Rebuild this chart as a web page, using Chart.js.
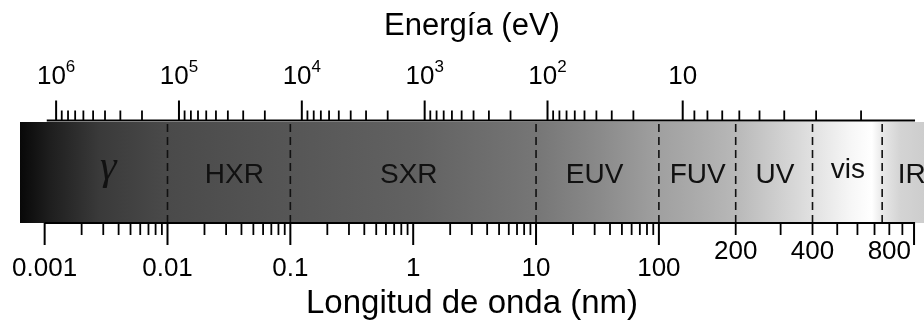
<!DOCTYPE html>
<html>
<head>
<meta charset="utf-8">
<script src="https://cdn.jsdelivr.net/npm/chart.js@4.4.1/dist/chart.umd.min.js"></script>
<style>
  html, body { margin: 0; padding: 0; background: #fff; }
</style>
</head>
<body>
<canvas id="myChart" width="924" height="322"></canvas>
<script>
// Bandas del espectro (longitud de onda en nm)
const bandNames = ['γ', 'HXR', 'SXR', 'EUV', 'FUV', 'UV', 'vis', 'IR'];
const bandEdges = [0.01, 0.1, 10, 100, 200, 400, 750];
const bandLabelAt = [0.0033, 0.035, 0.92, 30, 142, 285, 550, 980];
const spectrumRange = [0.00063, 1300];

// Eje inferior: longitud de onda
const lambdaMajor = [0.001, 0.01, 0.1, 1, 10, 100, 1000];
const lambdaLabelTicks = [0.001, 0.01, 0.1, 1, 10, 100, 200, 400, 800];
const lambdaLabels = ['0.001', '0.01', '0.1', '1', '10', '100', '200', '400', '800'];

// Eje superior: energía
const energyMajor = [1e6, 1e5, 1e4, 1e3, 1e2, 10];
const energyExp = [6, 5, 4, 3, 2, 1];

const HC = 1239.84;     // eV·nm
const STRETCH = 2.077;  // el tramo > 100 nm está ampliado
const axisRange = [0.00063, 1094];

// tonos de gris de la barra (nm, nivel)
const shadeStops = [
  [0.00063, 8], [0.0011, 30], [0.0028, 58], [0.01, 74], [0.1, 86], [1.1, 98],
  [10, 118], [33, 138], [100, 160], [145, 172], [200, 184], [357, 218],
  [561, 246], [684, 255], [750, 232], [881, 212], [1094, 205]
];

const FONT = '"Liberation Sans", Arial, sans-serif';

function u(nm) {
  const g = Math.log10(nm);
  return g <= 2 ? g : 2 + (g - 2) * STRETCH;
}

const lambdaMinor = [];
const energyMinor = [];
for (let n = -3; n <= 2; n++) {
  for (let m = 2; m <= 9; m++) lambdaMinor.push(m * Math.pow(10, n));
}
for (let n = 0; n <= 5; n++) {
  for (let m = 2; m <= 9; m++) energyMinor.push(m * Math.pow(10, n));
}

function barShade(context) {
  const chart = context.chart;
  if (!chart.chartArea) return '#666';
  const x = chart.scales.x;
  const x0 = x.getPixelForValue(u(spectrumRange[0]));
  const x1 = x.getPixelForValue(u(spectrumRange[1]));
  const g = chart.ctx.createLinearGradient(x0, 0, x1, 0);
  shadeStops.forEach(([l, v]) => {
    const t = (x.getPixelForValue(u(l)) - x0) / (x1 - x0);
    g.addColorStop(Math.min(1, Math.max(0, t)), `rgb(${v},${v},${v})`);
  });
  return g;
}

const labelNudge = { 'γ': -4, vis: -5 };

const spectrumPlugin = {
  id: 'spectrum',
  afterDatasetsDraw(chart) {
    const { ctx, chartArea: a, scales: { x } } = chart;
    const px = l => x.getPixelForValue(u(l));
    ctx.save();
    ctx.strokeStyle = '#000';
    ctx.fillStyle = '#000';

    const seg = (x1, y1, x2, y2, w) => {
      ctx.lineWidth = w;
      ctx.beginPath();
      ctx.moveTo(x1, y1);
      ctx.lineTo(x2, y2);
      ctx.stroke();
    };

    // eje superior
    const yTop = a.top - 1.5;
    seg(px(0.00104), yTop, px(1000) + 1, yTop, 1.8);
    energyMajor.forEach(e => { const p = px(HC / e); seg(p, yTop, p, yTop - 20, 2); });
    energyMinor.forEach(e => { const p = px(HC / e); seg(p, yTop, p, yTop - 10, 1.8); });

    ctx.textBaseline = 'alphabetic';
    ctx.textAlign = 'left';
    energyMajor.forEach((e, i) => {
      const cx = px(HC / e);
      const sup = energyExp[i] > 1 ? String(energyExp[i]) : '';
      ctx.font = '26px ' + FONT;
      const w1 = ctx.measureText('10').width;
      ctx.font = '17px ' + FONT;
      const w2 = sup ? ctx.measureText(sup).width : 0;
      const x0 = cx - (w1 + w2) / 2;
      ctx.font = '26px ' + FONT;
      ctx.fillText('10', x0, a.top - 38);
      if (sup) {
        ctx.font = '17px ' + FONT;
        ctx.fillText(sup, x0 + w1, a.top - 50);
      }
    });

    // eje inferior
    const yBot = a.bottom;
    seg(px(0.001), yBot, px(1000) + 1, yBot, 1.8);
    lambdaMajor.forEach(l => { const p = px(l); seg(p, yBot, p, yBot + 22, 2); });
    lambdaMinor.forEach(l => { const p = px(l); seg(p, yBot, p, yBot + 12, 1.8); });

    // nombres de las bandas
    ctx.textAlign = 'center';
    ctx.fillStyle = '#111';
    bandNames.forEach((name, i) => {
      const cx = px(bandLabelAt[i]);
      ctx.font = name === 'γ' ? 'italic 42px "Liberation Serif", serif' : '28px ' + FONT;
      ctx.fillText(name, cx, a.top + 61 + (labelNudge[name] || 0));
    });
    ctx.restore();
  }
};

const dashed = bandEdges.map(b => ({
  type: 'line',
  data: [{ x: u(b), y: 0 }, { x: u(b), y: 1 }],
  xAxisID: 'x',
  yAxisID: 'yl',
  borderColor: '#111',
  borderWidth: 1.6,
  borderDash: [8, 5],
  pointRadius: 0,
  order: 1
}));

const ctx = document.getElementById('myChart').getContext('2d');
new Chart(ctx, {
  type: 'bar',
  data: {
    labels: ['espectro'],
    datasets: [{
      indexAxis: 'y',
      data: [[u(spectrumRange[0]), u(spectrumRange[1])]],
      xAxisID: 'x',
      yAxisID: 'y',
      backgroundColor: barShade,
      borderWidth: 0,
      barPercentage: 1,
      categoryPercentage: 1,
      order: 2
    }, ...dashed]
  },
  options: {
    responsive: false,
    animation: false,
    events: [],
    layout: { padding: { left: 20, right: 0, top: 0, bottom: 0 } },
    plugins: { legend: { display: false }, tooltip: { enabled: false } },
    scales: {
      x: {
        type: 'linear',
        position: 'bottom',
        min: u(axisRange[0]),
        max: u(axisRange[1]),
        offset: false,
        grid: { display: false, drawTicks: false },
        border: { display: false },
        afterBuildTicks: s => { s.ticks = lambdaLabelTicks.map(v => ({ value: u(v) })); },
        afterFit: s => { s.height = 99; s.paddingLeft = 0; s.paddingRight = 0; },
        ticks: {
          autoSkip: false,
          maxRotation: 0,
          minRotation: 0,
          padding: 20,
          color: '#000',
          font: { family: FONT, size: 26, lineHeight: '17px' },
          callback: (v, i) => lambdaLabelTicks[i] > 100 ? lambdaLabels[i] : ['', lambdaLabels[i]]
        },
        title: {
          display: true,
          text: 'Longitud de onda (nm)',
          color: '#000',
          padding: 0,
          font: { family: FONT, size: 33, lineHeight: '36px' }
        }
      },
      x2: {
        type: 'linear',
        position: 'top',
        min: u(axisRange[0]),
        max: u(axisRange[1]),
        offset: false,
        grid: { display: false, drawTicks: false },
        border: { display: false },
        ticks: { display: false },
        afterFit: s => { s.height = 122; s.paddingLeft = 0; s.paddingRight = 0; },
        title: {
          display: true,
          text: 'Energía (eV)',
          color: '#000',
          padding: 0,
          font: { family: FONT, size: 31, lineHeight: '52px' }
        }
      },
      y: { type: 'category', display: false, offset: true, min: 0, max: 0 },
      yl: { type: 'linear', display: false, offset: false, min: 0, max: 1 }
    }
  },
  plugins: [spectrumPlugin]
});
</script>
</body>
</html>
